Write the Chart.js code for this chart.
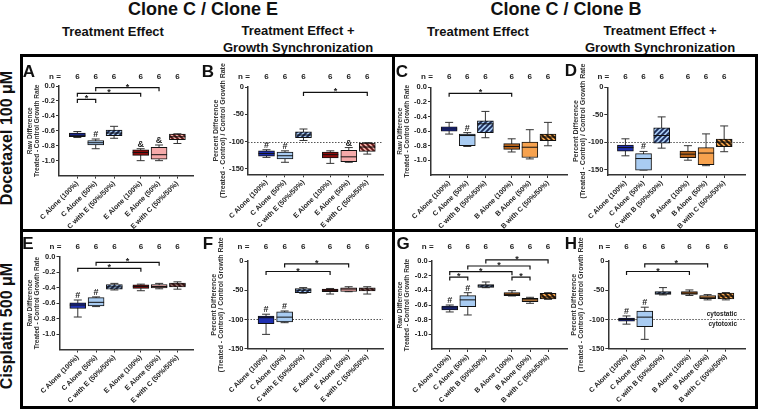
<!DOCTYPE html>
<html>
<head>
<meta charset="utf-8">
<script src="https://cdn.jsdelivr.net/npm/chart.js@4.4.1/dist/chart.umd.min.js"></script>
<style>
  body { margin: 0; background: #fff; }
  #fig { position: relative; width: 758px; height: 410px; overflow: hidden;
         font-family: "Liberation Sans", Arial, sans-serif; font-weight: bold; color: #111; }
  .txt { position: absolute; white-space: nowrap; transform: translate(-50%, -50%); text-align: center; line-height: 1; }
  .rot { transform: translate(-50%, -50%) rotate(-90deg); }
  .line { position: absolute; background: #000; z-index: 3; }
  canvas { position: absolute; }
</style>
</head>
<body>
<div id="fig">
  <div class="txt" style="left:203px;top:9px;font-size:18px">Clone C / Clone E</div>
  <div class="txt" style="left:566px;top:9px;font-size:18px">Clone C / Clone B</div>
  <div class="txt" style="left:113px;top:31px;font-size:13px">Treatment Effect</div>
  <div class="txt" style="left:298px;top:39px;font-size:13px;line-height:17px">Treatment Effect +<br>Growth Synchronization</div>
  <div class="txt" style="left:478px;top:31px;font-size:13px">Treatment Effect</div>
  <div class="txt" style="left:660px;top:39px;font-size:13px;line-height:17px">Treatment Effect +<br>Growth Synchronization</div>
  <div class="txt rot" style="left:7px;top:138px;font-size:16px">Docetaxel 100 μM</div>
  <div class="txt rot" style="left:7px;top:326px;font-size:16px">Cisplatin 500 μM</div>

  <div class="line" style="left:20px;top:54px;width:738px;height:3px"></div>
  <div class="line" style="left:20px;top:406px;width:738px;height:3px"></div>
  <div class="line" style="left:20px;top:54px;width:3px;height:355px"></div>
  <div class="line" style="left:755px;top:54px;width:3px;height:355px"></div>
  <div class="line" style="left:20px;top:229px;width:738px;height:3px"></div>
  <div class="line" style="left:392px;top:54px;width:3px;height:355px"></div>

  <div class="txt" style="left:29px;top:71px;font-size:17px;z-index:4">A</div>
  <div class="txt" style="left:208px;top:71px;font-size:17px;z-index:4">B</div>
  <div class="txt" style="left:402px;top:71px;font-size:17px;z-index:4">C</div>
  <div class="txt" style="left:571px;top:70px;font-size:17px;z-index:4">D</div>
  <div class="txt" style="left:28px;top:243px;font-size:17px;z-index:4">E</div>
  <div class="txt" style="left:208px;top:243px;font-size:17px;z-index:4">F</div>
  <div class="txt" style="left:403px;top:243px;font-size:17px;z-index:4">G</div>
  <div class="txt" style="left:571px;top:243px;font-size:17px;z-index:4">H</div>
</div>
<script>
const labelsCE = ['C Alone (100%)', 'C Alone (50%)', 'C with E (50%/50%)', 'E Alone (100%)', 'E Alone (50%)', 'E with C (50%/50%)'];
const labelsCB = ['C Alone (100%)', 'C Alone (50%)', 'C with B (50%/50%)', 'B Alone (100%)', 'B Alone (50%)', 'B with C (50%/50%)'];
const groupPos = [1, 2, 3, 4.45, 5.45, 6.45];
const nCounts = [6, 6, 6, 6, 6, 6];
const rawTicks = [0, -0.2, -0.4, -0.6, -0.8, -1.0];
const pctTicks = [0, -50, -100, -150];
const rawTitle = ['Raw Difference', 'Treated - Control Growth Rate'];
const pctTitle = ['Percent Difference', '(Treated - Control) / Control Growth Rate'];

// box stats per group: [min, q1, median, q3, max]
const statsA = [[-0.69, -0.68, -0.66, -0.63, -0.61], [-0.84, -0.79, -0.76, -0.73, -0.71], [-0.70, -0.665, -0.63, -0.59, -0.54],
                [-1.00, -0.93, -0.89, -0.855, -0.84], [-1.00, -0.98, -0.92, -0.82, -0.79], [-0.77, -0.72, -0.68, -0.645, -0.64]];
const statsB = [[-129, -127, -122, -117, -115], [-138, -132, -126, -119.5, -117], [-98, -93, -88, -82, -77],
                [-140, -130, -124, -119.5, -117], [-138, -137, -128, -116, -111], [-123, -118, -110, -103, -102]];
const statsC = [[-0.64, -0.60, -0.57, -0.54, -0.48], [-0.81, -0.80, -0.66, -0.64, -0.62], [-0.69, -0.62, -0.50, -0.46, -0.33],
                [-0.885, -0.85, -0.81, -0.77, -0.705], [-0.98, -0.96, -0.82, -0.75, -0.58], [-0.80, -0.73, -0.68, -0.64, -0.48]];
const statsD = [[-125, -116.5, -110, -105.5, -94], [-151, -151, -130, -121, -117], [-111, -102, -88, -74, -54],
                [-133, -128.5, -122, -116.5, -106.5], [-143, -141, -120, -110, -85], [-117.5, -108.5, -100, -94.5, -70.5]];
const statsE = [[-0.78, -0.67, -0.625, -0.595, -0.56], [-0.645, -0.635, -0.59, -0.53, -0.52], [-0.43, -0.42, -0.39, -0.36, -0.345],
                [-0.44, -0.41, -0.385, -0.365, -0.355], [-0.415, -0.405, -0.385, -0.36, -0.345], [-0.42, -0.39, -0.365, -0.34, -0.325]];
const statsF = [[-125.5, -107, -97, -94, -91], [-105.5, -104, -96, -87, -85.5], [-55, -54, -50, -47, -45.5],
                [-56.5, -52.5, -50, -48, -47], [-52.5, -52, -48, -46, -44], [-56.5, -51, -48, -46, -44]];
const statsG = [[-0.695, -0.668, -0.64, -0.614, -0.60], [-0.736, -0.623, -0.53, -0.473, -0.432], [-0.364, -0.36, -0.34, -0.323, -0.286],
                [-0.477, -0.473, -0.455, -0.432, -0.405], [-0.577, -0.555, -0.53, -0.509, -0.495], [-0.523, -0.518, -0.49, -0.44, -0.432]];
const statsH = [[-108, -103, -100, -97.5, -94], [-134, -112.5, -96, -85.5, -79], [-58, -57, -55, -52.5, -45.5],
                [-59, -57, -55, -52.5, -49.5], [-66.5, -64.5, -62, -59, -57.5], [-66.5, -65, -60, -55, -54]];

// symbols above the groups
const marksA = ['', '#', '', '&', '&', ''];
const marksB = ['#', '#', '', '', '&', ''];
const marksC = ['', '#', '', '', '', ''];
const marksD = ['', '#', '', '', '', ''];
const marksLower = ['#', '#', '', '', '', ''];

// significance brackets: [from group, to group, value]
const bracketsA = [[1, 4, -0.022], [0, 3, -0.098], [0, 1, -0.18]];
const bracketsB = [[2, 5, -10]];
const bracketsC = [[0, 3, -0.083]];
const bracketsD = [];
const bracketsE = [[1, 4, -0.073], [0, 3, -0.15]];
const bracketsF = [[1, 4, -5], [0, 3, -18]];
const bracketsG = [[2, 5, 0.014], [1, 4, -0.068], [0, 3, -0.146], [0, 1, -0.219], [3, 4, -0.219]];
const bracketsH = [[1, 4, -5], [0, 3, -18]];

const FONT = '"Liberation Sans", Arial, sans-serif';
Chart.defaults.font.family = FONT;
Chart.defaults.font.weight = 'bold';

function hatch(ctx, base, stripe, back) {
  const c = document.createElement('canvas');
  c.width = 5; c.height = 5;
  const g = c.getContext('2d');
  g.fillStyle = base; g.fillRect(0, 0, 5, 5);
  g.strokeStyle = stripe; g.lineWidth = 1.9;
  g.beginPath();
  if (back) {
    g.moveTo(-1, -1); g.lineTo(6, 6); g.moveTo(-1, 4); g.lineTo(1, 6); g.moveTo(4, -1); g.lineTo(6, 1);
  } else {
    g.moveTo(-1, 6); g.lineTo(6, -1); g.moveTo(-1, 1); g.lineTo(1, -1); g.moveTo(4, 6); g.lineTo(6, 4);
  }
  g.stroke();
  return ctx.createPattern(c, 'repeat');
}

function fillsCE(ctx) {
  return ['#1e2fb0', '#a9ccf2', hatch(ctx, '#a9ccf2', '#1c2c5a', false),
          '#8e0c0c', '#f5aaaa', hatch(ctx, '#f3b0a8', '#5e1414', true)];
}
function fillsCB(ctx) {
  return ['#1e2fb0', '#a9ccf2', hatch(ctx, '#a9ccf2', '#1c2c5a', false),
          '#b8641c', '#f7a24e', hatch(ctx, '#f2a24a', '#2a1a0a', true)];
}

const boxExtras = {
  id: 'boxExtras',
  beforeDatasetsDraw(chart, args, o) {
    const {ctx, chartArea, scales: {x, y}} = chart;
    ctx.save();
    if (o.refLine != null) {
      const yy = Math.round(y.getPixelForValue(o.refLine)) + 0.5;
      ctx.setLineDash([1.5, 1.5]);
      ctx.strokeStyle = '#555'; ctx.lineWidth = 1;
      ctx.beginPath(); ctx.moveTo(chartArea.left, yy); ctx.lineTo(chartArea.right, yy); ctx.stroke();
      ctx.setLineDash([]);
    }
    ctx.strokeStyle = '#333'; ctx.lineWidth = 1;
    o.stats.forEach((s, i) => {
      const xx = x.getPixelForValue(groupPos[i]);
      const lo = y.getPixelForValue(s[0]), hi = y.getPixelForValue(s[4]);
      ctx.beginPath();
      ctx.moveTo(xx, lo); ctx.lineTo(xx, hi);
      ctx.moveTo(xx - 4, lo); ctx.lineTo(xx + 4, lo);
      ctx.moveTo(xx - 4, hi); ctx.lineTo(xx + 4, hi);
      ctx.stroke();
    });
    ctx.restore();
  },
  afterDatasetsDraw(chart, args, o) {
    const {ctx, scales: {x, y}} = chart;
    ctx.save();
    ctx.strokeStyle = '#111'; ctx.lineWidth = 1;
    o.stats.forEach((s, i) => {
      const xx = x.getPixelForValue(groupPos[i]);
      const m = y.getPixelForValue(s[2]);
      ctx.beginPath(); ctx.moveTo(xx - 8, m); ctx.lineTo(xx + 8, m); ctx.stroke();
    });
    ctx.restore();
  },
  afterDraw(chart, args, o) {
    const {ctx, chartArea, scales: {x, y}} = chart;
    ctx.save();
    ctx.fillStyle = '#222';
    ctx.textAlign = 'center'; ctx.textBaseline = 'middle';
    ctx.font = 'bold 8px ' + FONT;
    ctx.fillText('n =', chartArea.left - 4, o.nY);
    nCounts.forEach((n, i) => ctx.fillText(String(n), x.getPixelForValue(groupPos[i]), o.nY));

    ctx.textBaseline = 'alphabetic';
    ctx.font = 'bold 9px ' + FONT;
    o.marks.forEach((m, i) => {
      if (!m) return;
      ctx.fillText(m, x.getPixelForValue(groupPos[i]), y.getPixelForValue(o.stats[i][4]) - 2);
    });

    ctx.strokeStyle = '#111'; ctx.lineWidth = 1.2;
    o.brackets.forEach(([a, b, v]) => {
      const x1 = x.getPixelForValue(groupPos[a]), x2 = x.getPixelForValue(groupPos[b]);
      const yy = y.getPixelForValue(v);
      ctx.beginPath();
      ctx.moveTo(x1, yy + 3.5); ctx.lineTo(x1, yy); ctx.lineTo(x2, yy); ctx.lineTo(x2, yy + 3.5);
      ctx.stroke();
      ctx.fillText('*', (x1 + x2) / 2, yy + 2);
    });

    if (o.notes) {
      const yy = y.getPixelForValue(o.refLine);
      ctx.font = 'bold 6.5px ' + FONT;
      ctx.textAlign = 'right'; ctx.textBaseline = 'middle';
      ctx.fillText(o.notes[0], chartArea.right - 8, yy - 5);
      ctx.fillText(o.notes[1], chartArea.right - 8, yy + 5);
    }
    ctx.restore();
  }
};

const fig = document.getElementById('fig');

function panel(p) {
  const [cl, ct, cw, ch] = p.box;
  const [al, at, ar, ab] = p.area;
  const cv = document.createElement('canvas');
  cv.width = cw; cv.height = ch;
  cv.style.left = cl + 'px'; cv.style.top = ct + 'px';
  fig.appendChild(cv);
  const ctx = cv.getContext('2d');
  const raw = p.kind === 'raw';
  const fills = p.labels === labelsCE ? fillsCE(ctx) : fillsCB(ctx);

  new Chart(ctx, {
    type: 'bar',
    data: {
      datasets: [{
        data: groupPos.map((g, i) => ({x: g, y: [p.stats[i][1], p.stats[i][3]]})),
        backgroundColor: fills,
        borderColor: '#111',
        borderWidth: 1,
        borderSkipped: false,
        barThickness: 16
      }]
    },
    options: {
      responsive: false,
      animation: false,
      devicePixelRatio: 1,
      layout: { padding: { top: at - ct, right: cl + cw - ar, left: 0, bottom: 0 } },
      plugins: {
        legend: { display: false },
        tooltip: { enabled: false },
        boxExtras: {
          stats: p.stats, marks: p.marks, brackets: p.brackets, nY: p.nY,
          refLine: raw ? null : -100, notes: p.notes
        }
      },
      scales: {
        x: {
          type: 'linear', min: 0, max: p.xMax, offset: false,
          afterBuildTicks: s => { s.ticks = groupPos.map(v => ({value: v})); },
          afterFit: s => { s.height = ct + ch - ab; },
          grid: { offset: false, drawOnChartArea: false, tickLength: 3, color: '#333' },
          border: { color: '#333', width: 1.5 },
          ticks: {
            autoSkip: false, minRotation: 45, maxRotation: 45, padding: 1, color: '#222',
            font: { size: 7, weight: 'bold' },
            callback: (v, i) => p.labels[i]
          }
        },
        y: {
          min: p.yMin, max: 0,
          afterBuildTicks: s => { s.ticks = (raw ? rawTicks : pctTicks).map(v => ({value: v})); },
          afterFit: s => { s.width = al - cl; },
          grid: { drawOnChartArea: false, tickLength: 3, color: '#333' },
          border: { color: '#333', width: 1.5 },
          ticks: {
            padding: 1, color: '#222', font: { size: 7.5, weight: 'bold' },
            callback: v => raw ? v.toFixed(1) : String(v)
          },
          title: {
            display: true, text: raw ? rawTitle : pctTitle, color: '#333',
            padding: { top: p.titlePad, bottom: 0 },
            font: { size: raw ? 6.5 : 7, weight: 'bold', lineHeight: 1.05 }
          }
        }
      }
    },
    plugins: [boxExtras]
  });
}

panel({ box: [22, 58, 172, 172], area: [59, 86, 193, 175.6], labels: labelsCE, kind: 'raw', yMin: -1.2, xMax: 7.3,
        stats: statsA, marks: marksA, brackets: bracketsA, nY: 19, titlePad: 4.8 });
panel({ box: [196, 58, 188, 172], area: [248, 87, 383, 174.3], labels: labelsCE, kind: 'pct', yMin: -160, xMax: 7.3,
        stats: statsB, marks: marksB, brackets: bracketsB, nY: 19, titlePad: 16 });
panel({ box: [395, 58, 174, 172], area: [431, 87.3, 567, 175], labels: labelsCB, kind: 'raw', yMin: -1.2, xMax: 7.5,
        stats: statsC, marks: marksC, brackets: bracketsC, nY: 19, titlePad: 2.2 });
panel({ box: [569, 58, 186, 172], area: [607.3, 87.3, 745, 175], labels: labelsCB, kind: 'pct', yMin: -160, xMax: 7.6,
        stats: statsD, marks: marksD, brackets: bracketsD, nY: 19, titlePad: 3.5 });
panel({ box: [22, 233, 172, 173], area: [59.5, 256.7, 193, 349.5], labels: labelsCE, kind: 'raw', yMin: -1.2, xMax: 7.3,
        stats: statsE, marks: marksLower, brackets: bracketsE, nY: 14, titlePad: 4.8 });
panel({ box: [196, 233, 188, 173], area: [247.5, 261, 383, 348.7], labels: labelsCE, kind: 'pct', yMin: -150, xMax: 7.3,
        stats: statsF, marks: marksLower, brackets: bracketsF, nY: 14, titlePad: 14 });
panel({ box: [395, 233, 174, 173], area: [431.7, 261, 567, 349], labels: labelsCB, kind: 'raw', yMin: -1.2, xMax: 7.5,
        stats: statsG, marks: marksLower, brackets: bracketsG, nY: 14, titlePad: 2.2 });
panel({ box: [569, 233, 186, 173], area: [608.3, 261, 745, 348.7], labels: labelsCB, kind: 'pct', yMin: -150, xMax: 7.5,
        stats: statsH, marks: marksLower, brackets: bracketsH, nY: 14, titlePad: 1.2,
        notes: ['cytostatic', 'cytotoxic'] });
</script>
</body>
</html>
